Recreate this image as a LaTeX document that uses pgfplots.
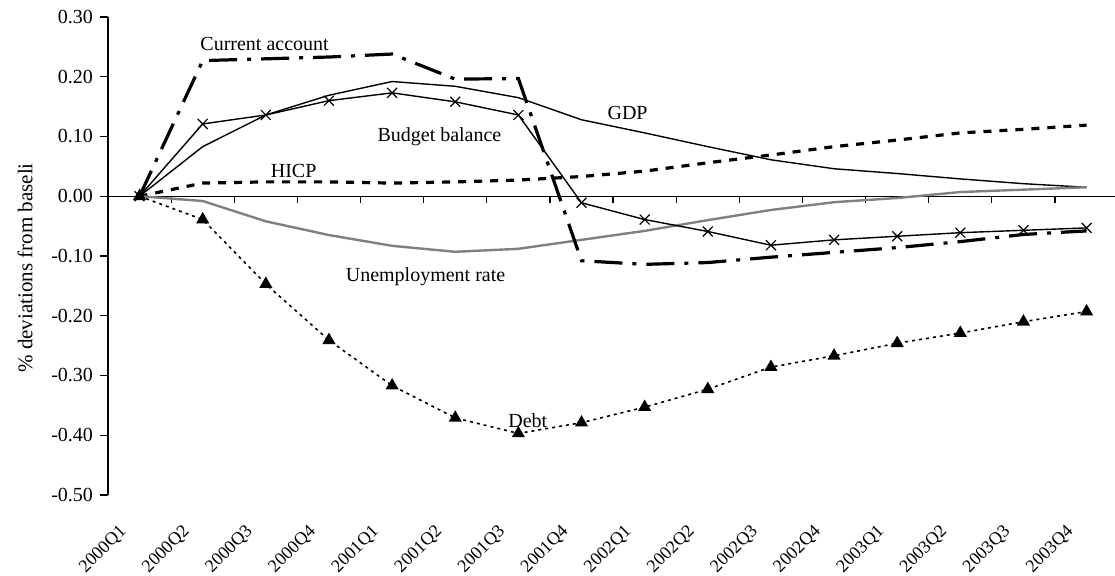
\documentclass[border=0pt]{standalone}
\usepackage{fontspec}
\setmainfont{Liberation Serif}
\usepackage{pgfplots}
\usepackage{pgfplotstable}
\pgfplotsset{compat=1.18}
\usetikzlibrary{calc}

% deviations from baseline, 2000Q1..2003Q4
\pgfplotstableread{
q  gdp    hicp   unemp  cur    bud    debt
0  0.000  0.000  0.000  0.000  0.000  0.000
1  0.083  0.022 -0.008  0.227  0.121 -0.039
2  0.136  0.024 -0.042  0.230  0.136 -0.147
3  0.169  0.024 -0.065  0.233  0.160 -0.241
4  0.192  0.022 -0.083  0.238  0.173 -0.317
5  0.184  0.024 -0.093  0.196  0.158 -0.371
6  0.165  0.027 -0.088  0.197  0.136 -0.397
7  0.128  0.033 -0.073 -0.108 -0.011 -0.379
8  0.106  0.042 -0.058 -0.114 -0.039 -0.353
9  0.083  0.056 -0.040 -0.111 -0.059 -0.323
10 0.061  0.069 -0.023 -0.102 -0.082 -0.286
11 0.046  0.083 -0.010 -0.094 -0.073 -0.267
12 0.038  0.094 -0.003 -0.086 -0.067 -0.246
13 0.029  0.106  0.007 -0.076 -0.061 -0.229
14 0.021  0.112  0.011 -0.064 -0.057 -0.210
15 0.015  0.119  0.015 -0.058 -0.053 -0.193
}\devtable

\begin{document}
\begin{tikzpicture}
\begin{axis}[
    scale only axis,
    width=503.5pt, height=239pt,
    xmin=-0.5, xmax=15.45,
    ymin=-0.5, ymax=0.3,
    axis y line*=left,
    axis x line*=bottom,
    x axis line style={draw=none},
    y axis line style={line width=0.6pt},
    xtick={0,...,15},
    xticklabels={2000Q1,2000Q2,2000Q3,2000Q4,2001Q1,2001Q2,2001Q3,2001Q4,
                 2002Q1,2002Q2,2002Q3,2002Q4,2003Q1,2003Q2,2003Q3,2003Q4},
    xtick style={draw=none},
    xticklabel style={xshift=-5.5pt, yshift=-10.5pt, rotate=45, anchor=east,
                      font=\fontsize{9}{11}\selectfont},
    ytick={-0.5,-0.4,-0.3,-0.2,-0.1,0,0.1,0.2,0.3},
    yticklabel style={/pgf/number format/.cd, fixed, fixed zerofill,
                      precision=2, assume math mode=true},
    tick align=outside,
    major tick length=4pt,
    ytick style={black, line width=0.6pt},
    ylabel={\% deviations from baseli},
    ylabel style={at={(axis description cs:-0.0824,0.475)}, anchor=center,
                  font=\fontsize{10.5}{12}\selectfont},
    clip=false,
]
% zero line with category separators
\draw[line width=0.6pt] (axis cs:-0.5,0) -- (axis cs:15.45,0);
\pgfplotsinvokeforeach{0.5,1.5,...,14.5}{
    \draw[line width=0.6pt] (axis cs:#1,0) -- ++(0pt,-3.5pt);
}

\addplot[black, line width=0.7pt] table[x=q, y=gdp] {\devtable};
\addplot[black, line width=1.6pt, dash pattern=on 4pt off 4pt] table[x=q, y=hicp] {\devtable};
\addplot[gray, line width=1.2pt] table[x=q, y=unemp] {\devtable};
\addplot[black, line width=1.6pt, dash pattern=on 14pt off 5pt on 2pt off 5pt] table[x=q, y=cur] {\devtable};
\addplot[black, line width=0.7pt, mark=x, mark size=3.5pt,
         mark options={solid, line width=0.6pt}] table[x=q, y=bud] {\devtable};
\addplot[black, line width=0.8pt, dash pattern=on 1.5pt off 2pt, mark=triangle*,
         mark size=3pt, mark options={solid}] table[x=q, y=debt] {\devtable};

\node at (axis cs:1.98,0.255) {Current account};
\node at (axis cs:4.75,0.100) {Budget balance};
\node at (axis cs:2.44,0.042) {HICP};
\node at (axis cs:4.53,-0.135) {Unemployment rate};
\node at (axis cs:7.73,0.140) {GDP};
\node at (axis cs:6.15,-0.375) {Debt};
\end{axis}
\pgfresetboundingbox
\path[use as bounding box] ($(current axis.south west)+(-54pt,-40.5pt)$)
    rectangle ($(current axis.north east)+(0pt,8.5pt)$);
\end{tikzpicture}
\end{document}
